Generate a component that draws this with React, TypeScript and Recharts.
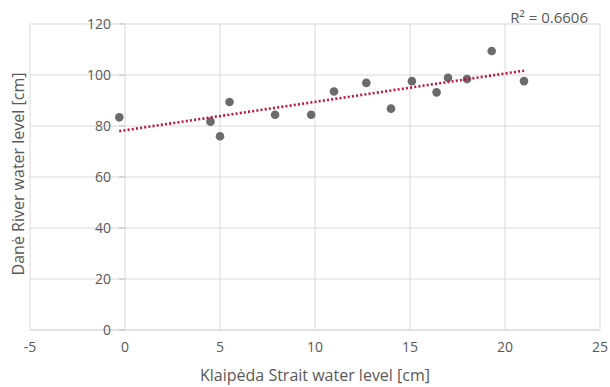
import { ScatterChart, Scatter, XAxis, YAxis, CartesianGrid } from 'recharts';

document.body.style.margin = '0';

// readings
const straitLevel = [-0.3, 4.5, 5.0, 5.5, 7.9, 9.8, 11.0, 12.7, 14.0, 15.1, 16.4, 17.0, 18.0, 19.3, 21.0];
const riverLevel = [83.4, 81.7, 76.0, 89.4, 84.4, 84.4, 93.5, 96.9, 86.8, 97.6, 93.2, 98.9, 98.4, 109.4, 97.6];

// trend line end points
const trendX = [-0.3, 21.0];
const trendY = [78.0, 101.7];

const xTicks = [-5, 0, 5, 10, 15, 20, 25];
const yTicks = [0, 20, 40, 60, 80, 100, 120];
const rSquared = '0.6606';

const points = straitLevel.map((x, i) => ({ x, y: riverLevel[i] }));
const trend = trendX.map((x, i) => ({ x, y: trendY[i] }));

const W = 610;
const H = 387;
const yAxisW = 30;
const margin = { top: 24, right: 10, left: 0, bottom: 0 };
const xDomain: [number, number] = [-5, 25];
const plotLeft = margin.left + yAxisW;
const plotW = W - plotLeft - margin.right;
// the y axis crosses at x = 0, inside the plot
const yAxisShift = ((0 - xDomain[0]) / (xDomain[1] - xDomain[0])) * plotW;

const textColor = '#595959';
const gridColor = '#d9d9d9';
const font = '"Open Sans", sans-serif';

const YTick = ({ y, payload }: any) => {
  const ax = plotLeft + yAxisShift;
  return (
    <g>
      <line x1={ax - 6} x2={ax} y1={y} y2={y} stroke="#bfbfbf" />
      <text x={ax - 14} y={y} dy="0.36em" textAnchor="end" fill={textColor} fontSize={14} fontFamily={font}>
        {payload.value}
      </text>
    </g>
  );
};

export default function App() {
  return (
    <ScatterChart width={W} height={H} margin={margin} style={{ background: '#fff' }}>
      <CartesianGrid stroke={gridColor} strokeWidth={1} />
      <XAxis
        type="number"
        dataKey="x"
        domain={xDomain}
        ticks={xTicks}
        height={57}
        interval={0}
        tickLine={false}
        tickSize={0}
        tickMargin={12}
        axisLine={{ stroke: gridColor }}
        tick={{ fill: textColor, fontSize: 14, fontFamily: font }}
      />
      <YAxis
        type="number"
        dataKey="y"
        domain={[0, 120]}
        ticks={yTicks}
        interval={0}
        width={yAxisW}
        axisLine={false}
        tickLine={false}
        tick={<YTick />}
      />
      <Scatter
        data={points}
        fill="#6b6b6b"
        shape={(p: any) => <circle cx={p.cx} cy={p.cy} r={4.3} fill="#6b6b6b" />}
        isAnimationActive={false}
      />
      <Scatter
        data={trend}
        line={{ stroke: '#c0143c', strokeWidth: 2.6, strokeDasharray: '2 2.2' }}
        shape={() => <g />}
        isAnimationActive={false}
      />
      <text x={315} y={381} textAnchor="middle" fill={textColor} fontSize={16} fontFamily={font}>
        Klaipėda Strait water level [cm]
      </text>
      <text
        x={18}
        y={174}
        transform="rotate(-90 18 174)"
        dy="0.35em"
        textAnchor="middle"
        fill={textColor}
        fontSize={16}
        fontFamily={font}
      >
        Danė River water level [cm]
      </text>
      <text x={588} y={23} textAnchor="end" fill={textColor} fontSize={15} fontFamily={font}>
        R² = {rSquared}
      </text>
    </ScatterChart>
  );
}
